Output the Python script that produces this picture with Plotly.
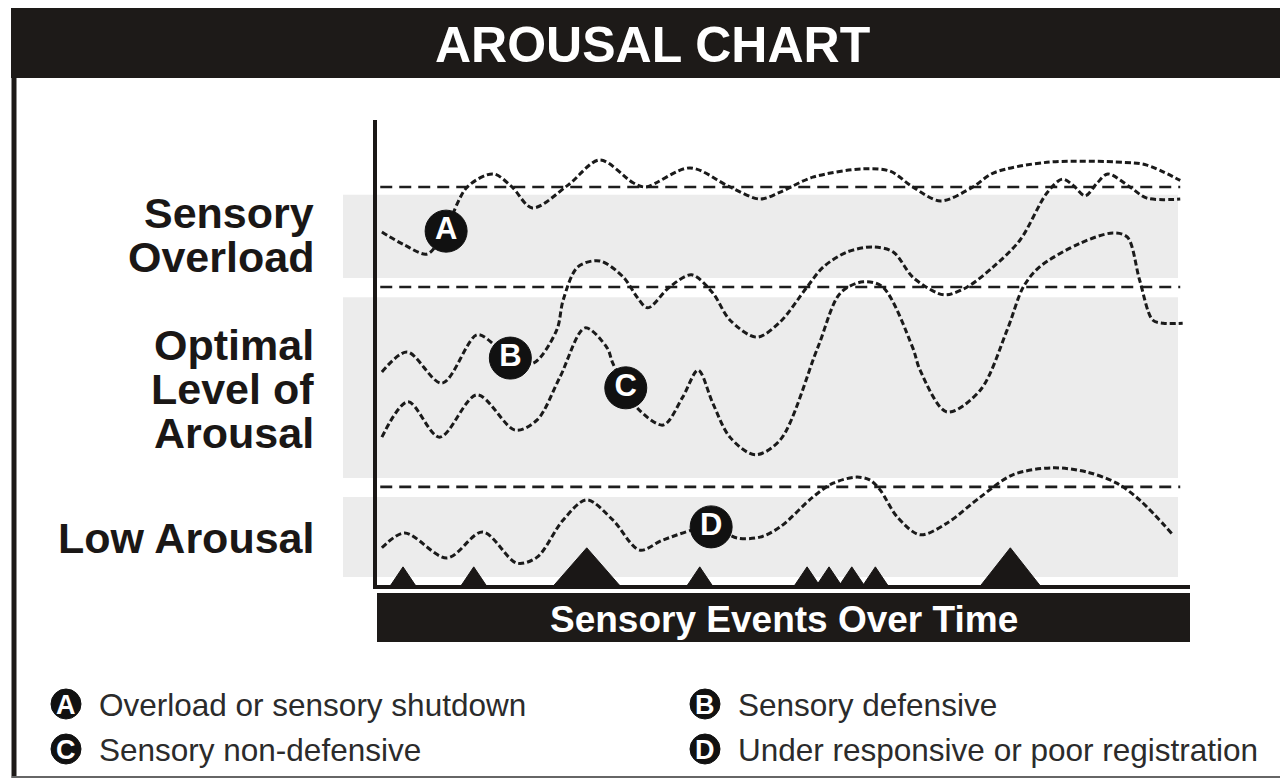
import plotly.graph_objects as go

# ---------------- data (time 0-100, arousal 0-100) ----------------
a_time = [0.6, 3.4, 6.2, 8.5, 11.1, 14.3, 16.6, 19.1, 23.5, 27.4, 31.5, 33.0, 38.5, 43.4, 47.1,
          49.6, 53.6, 59.8, 63.1, 65.9, 69.3, 73.3, 75.8, 82.4, 91.8, 94.7, 98.8]
a_level = [75.9, 73.1, 71.2, 76.8, 85.6, 88.4, 85.6, 81.1, 86.0, 91.4, 86.5, 85.6, 89.7, 85.6, 83.0,
           84.5, 87.7, 89.5, 89.0, 85.6, 82.6, 85.6, 88.6, 90.9, 90.9, 90.3, 87.0]

b_time = [0.6, 3.7, 8.0, 12.3, 14.5, 16.4, 19.2, 22.1, 22.9, 24.7, 27.4, 30.3, 32.0, 33.3, 36.0,
          38.7, 41.3, 43.4, 46.7, 49.6, 52.9, 54.9, 57.8, 61.0, 63.5, 65.9, 68.9, 70.1, 72.6,
          75.8, 79.1, 82.4, 84.3, 85.6, 87.1, 88.6, 89.9, 92.6, 94.7, 98.8]
b_level = [45.8, 50.1, 43.4, 53.8, 51.6, 48.8, 47.7, 54.8, 61.3, 68.4, 69.7, 66.2, 61.9, 59.6, 64.1,
           66.7, 62.8, 57.0, 53.3, 56.6, 64.1, 68.4, 71.6, 72.7, 71.6, 66.2, 62.8, 62.4, 64.1,
           68.4, 74.2, 84.3, 87.3, 86.0, 83.7, 86.5, 88.4, 85.6, 83.2, 83.0]

c_time = [0.6, 3.8, 7.7, 12.3, 17.0, 19.7, 22.5, 25.6, 28.3, 29.0, 30.6, 32.0, 35.2, 37.6, 39.5,
          41.3, 43.4, 46.5, 49.6, 54.2, 57.0, 59.8, 62.2, 65.9, 66.8, 70.1, 74.2, 77.5, 79.5,
          81.5, 86.5, 90.5, 92.3, 93.8, 95.4, 96.7, 99.1]
c_level = [31.8, 39.4, 31.8, 40.9, 33.3, 35.5, 44.7, 55.3, 51.0, 47.7, 42.4, 38.1, 34.4, 40.4, 46.2,
           39.1, 31.8, 28.0, 31.2, 51.0, 62.8, 65.2, 64.1, 51.0, 46.2, 37.2, 41.9, 54.8, 64.1,
           68.4, 73.5, 75.7, 74.8, 65.6, 57.0, 56.3, 56.3]

d_time = [0.6, 3.4, 8.6, 13.0, 17.2, 19.7, 22.9, 25.8, 29.0, 32.3, 35.2, 41.1, 44.3, 47.1, 49.6,
          53.6, 56.1, 59.0, 60.6, 61.9, 64.0, 66.8, 70.1, 74.2, 78.2, 83.1, 87.3, 91.0, 93.8, 97.9]
d_level = [8.0, 11.2, 5.8, 11.4, 4.7, 6.0, 14.0, 18.3, 14.0, 7.5, 9.7, 12.5, 10.1, 10.3, 12.5,
           18.9, 21.9, 23.2, 22.6, 20.4, 14.6, 10.8, 13.3, 18.9, 23.7, 25.2, 24.3, 21.9, 18.3, 10.8]

label_letters = ["A", "B", "C", "D"]
label_time = [8.5, 16.4, 30.6, 41.1]
label_level = [76.1, 48.8, 42.4, 12.5]

event_time = [3.2, 11.9, 25.8, 39.7, 52.9, 55.6, 58.4, 61.3, 77.9]
event_intensity = [3.9, 3.9, 8.0, 3.9, 3.9, 3.9, 3.9, 3.9, 8.0]
event_halfwidth = [1.5, 1.5, 4.0, 1.5, 1.5, 1.5, 1.5, 1.5, 3.6]

zone_names = [["Sensory", "Overload"], ["Optimal", "Level of", "Arousal"], ["Low Arousal"]]
zone_bottom = [66.0, 23.0, 1.7]
zone_top = [83.9, 61.9, 18.9]
threshold_levels = [85.6, 64.1, 21.1]

legend_letters = ["A", "B", "C", "D"]
legend_texts = ["Overload or sensory shutdown", "Sensory defensive",
                "Sensory non-defensive", "Under responsive or poor registration"]

title_text = "AROUSAL CHART"
xaxis_text = "Sensory Events Over Time"

# ---------------- figure ----------------
W, H = 1280, 780
FONT = "Liberation Sans, Arial, Helvetica, sans-serif"
INK = "#1a1716"


def px(x):
    return x / W


def py(y):
    return 1 - y / H


fig = go.Figure()

# event triangles
tri_x, tri_y = [], []
for t, h, w in zip(event_time, event_intensity, event_halfwidth):
    tri_x += [t - w, t, t + w, t - w, None]
    tri_y += [0, h, 0, 0, None]
fig.add_trace(go.Scatter(x=tri_x, y=tri_y, mode="lines", fill="toself",
                         fillcolor=INK, line=dict(color=INK, width=1),
                         hoverinfo="skip"))

for xs, ys in [(a_time, a_level), (b_time, b_level), (c_time, c_level), (d_time, d_level)]:
    fig.add_trace(go.Scatter(x=xs, y=ys, mode="lines",
                             line=dict(color="#1a1a1a", width=3, dash="6px,3px",
                                       shape="spline", smoothing=0.9),
                             hoverinfo="skip"))

fig.add_trace(go.Scatter(x=label_time, y=label_level, mode="markers+text",
                         text=label_letters, textposition="middle center",
                         textfont=dict(family=FONT, size=31, color="white", weight="bold"),
                         marker=dict(size=42, color="#111111", line=dict(color="#111111", width=1)),
                         hoverinfo="skip"))

shapes = []
# zone bands
for lo, hi in zip(zone_bottom, zone_top):
    shapes.append(dict(type="rect", xref="paper", yref="y", x0=px(343), x1=px(1178),
                       y0=lo, y1=hi, fillcolor="#ececec", line=dict(width=0), layer="below"))
# thresholds
for lv in threshold_levels:
    shapes.append(dict(type="line", xref="x", yref="y", x0=0.4, x1=98.8, y0=lv, y1=lv,
                       line=dict(color="#1e1e1e", width=2.6, dash="12px,7px"), layer="below"))
# title bar
shapes.append(dict(type="rect", xref="paper", yref="paper", x0=px(11), x1=1.0,
                   y0=py(78), y1=py(8), fillcolor="#1d1a18", line=dict(width=0)))
# left frame & bottom frame
shapes.append(dict(type="line", xref="paper", yref="paper", x0=px(14), x1=px(14),
                   y0=py(778), y1=py(76), line=dict(color="#1d1a18", width=5)))
shapes.append(dict(type="line", xref="paper", yref="paper", x0=px(12), x1=1.0,
                   y0=py(777), y1=py(777), line=dict(color="#666666", width=2)))
# x-axis title bar
shapes.append(dict(type="rect", xref="paper", yref="paper", x0=px(377), x1=px(1190),
                   y0=py(642), y1=py(593), fillcolor="#1d1a18", line=dict(width=0)))

annotations = []
annotations.append(dict(text=title_text, xref="paper", yref="paper", x=px(652), y=py(45),
                        showarrow=False, xanchor="center", yanchor="middle",
                        font=dict(family=FONT, size=50, color="white", weight="bold")))
annotations.append(dict(text=xaxis_text, xref="paper", yref="paper", x=px(783.5), y=py(619),
                        showarrow=False, xanchor="center", yanchor="middle",
                        font=dict(family=FONT, size=37, color="white", weight="bold")))

zone_line_y = [[213, 257], [345, 389, 433], [538]]
for names, ys in zip(zone_names, zone_line_y):
    for name, yy in zip(names, ys):
        annotations.append(dict(text=name, xref="paper", yref="paper", x=px(316), y=py(yy),
                                showarrow=False, xanchor="right", yanchor="middle",
                                font=dict(family=FONT, size=43, color=INK, weight="bold")))

legend_pos = [(66, 704, 97), (705, 704, 736), (66, 749, 97), (705, 749, 736)]
for letter, txt, (cx, cy, tx) in zip(legend_letters, legend_texts, legend_pos):
    r = 15
    shapes.append(dict(type="circle", xref="paper", yref="paper",
                       x0=px(cx - r), x1=px(cx + r), y0=py(cy + r), y1=py(cy - r),
                       fillcolor="#111111", line=dict(color="#111111", width=1)))
    annotations.append(dict(text=letter, xref="paper", yref="paper", x=px(cx), y=py(cy + 1),
                            showarrow=False, xanchor="center", yanchor="middle",
                            font=dict(family=FONT, size=27, color="white", weight="bold")))
    annotations.append(dict(text=txt, xref="paper", yref="paper", x=px(tx), y=py(cy + 1),
                            showarrow=False, xanchor="left", yanchor="middle",
                            font=dict(family=FONT, size=31.5, color="#2b2b2b")))

fig.update_layout(
    width=W, height=H, margin=dict(l=0, r=0, t=0, b=0),
    paper_bgcolor="white", plot_bgcolor="rgba(0,0,0,0)",
    showlegend=False, shapes=shapes, annotations=annotations,
    xaxis=dict(domain=[px(377), px(1190)], range=[0, 100], showgrid=False, zeroline=False,
               showticklabels=False, ticks="", showline=True, linewidth=4, linecolor=INK,
               fixedrange=True),
    yaxis=dict(domain=[py(585), py(120)], range=[0, 100], showgrid=False, zeroline=False,
               showticklabels=False, ticks="", showline=True, linewidth=4, linecolor=INK,
               fixedrange=True),
)

fig.write_html("out.html", config={"displayModeBar": False},
               post_script="document.body.style.margin='0px';document.body.style.overflow='hidden';")
